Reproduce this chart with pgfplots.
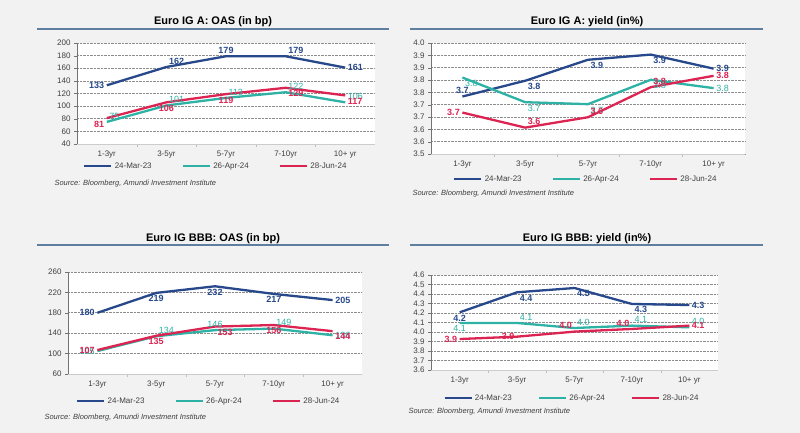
\documentclass[border=0pt]{standalone}
\usepackage{fontspec}
\setmainfont{Liberation Sans}
\usepackage{pgfplots}
\pgfplotsset{compat=1.18}
\definecolor{bg}{HTML}{F2F2F2}
\definecolor{cblue}{HTML}{27498B}
\definecolor{cteal}{HTML}{2DB2A5}
\definecolor{cred}{HTML}{DC2452}
\definecolor{tickc}{HTML}{404040}
\definecolor{rulec}{HTML}{5E7FA0}

\pgfplotsset{
 panel/.style={
  scale only axis, clip=false,
  axis background/.style={fill=white},
  xmin=-0.5,xmax=4.5,
  xtick={0,1,2,3,4},
  xticklabels={1-3yr,3-5yr,5-7yr,7-10yr,10+ yr},
  minor xtick={0.5,1.5,2.5,3.5},
  axis x line*=bottom, axis y line*=left,
  x axis line style={draw=black!20, line width=0.6pt},
  y axis line style={draw=black!55, line width=0.6pt},
  tick align=outside,
  major tick length=3pt, minor tick length=3pt,
  major x tick style={draw=none},
  minor x tick style={draw=black!25},
  ytick style={draw=black!55},
  ymajorgrids, grid style={densely dotted, black!45, line width=0.6pt},
  ticklabel style={font=\fontsize{8}{9}\selectfont, text=tickc},
  /pgf/number format/assume math mode=true,
  legend columns=3,
  legend cell align=left,
  legend style={draw=none, fill=none, anchor=west, font=\fontsize{8}{9}\selectfont, text=tickc, inner sep=0pt,
    /tikz/every even column/.append style={column sep=28pt}},
  legend image code/.code={\draw[#1, line width=2.6pt] (0pt,0pt) -- (27pt,0pt);},
  nodes near coords, point meta=explicit symbolic,
  visualization depends on={value \thisrow{anc} \as \anc},
  every node near coord/.append style={anchor=\anc, inner sep=1.5pt, font=\fontsize{9}{10}\selectfont\bfseries},
 },
 s1/.style={cblue, mark=none, line width=2.3pt, every node near coord/.append style={text=cblue}},
 s2/.style={cteal, mark=none, line width=2.3pt, every node near coord/.append style={text=cteal, font=\fontsize{9}{10}\selectfont}},
 s3/.style={cred, mark=none, line width=2.3pt, every node near coord/.append style={text=cred}},
}

\begin{document}
\begin{tikzpicture}
\fill[bg] (0,0) rectangle (800pt,433pt);

% Titles and rules
\node[font=\fontsize{11}{13}\selectfont\bfseries] at (213pt,411pt) {Euro IG A: OAS (in bp)};
\node[font=\fontsize{11}{13}\selectfont\bfseries] at (587pt,411pt) {Euro IG A: yield (in\%)};
\node[font=\fontsize{11}{13}\selectfont\bfseries] at (213pt,194pt) {Euro IG BBB: OAS (in bp)};
\node[font=\fontsize{11}{13}\selectfont\bfseries] at (587pt,194pt) {Euro IG BBB: yield (in\%)};
\draw[rulec, line width=1.2pt] (37pt,404pt) -- (389pt,404pt);
\draw[rulec, line width=1.2pt] (410pt,404pt) -- (763pt,404pt);
\draw[rulec, line width=1.2pt] (37pt,188pt) -- (389pt,188pt);
\draw[rulec, line width=1.2pt] (410pt,188pt) -- (763pt,188pt);

% Sources
\node[anchor=west, font=\fontsize{7.5}{9}\selectfont\itshape, text=tickc] at (51pt,249pt) {Source: Bloomberg, Amundi Investment Institute};
\node[anchor=west, font=\fontsize{7.5}{9}\selectfont\itshape, text=tickc] at (409pt,239pt) {Source: Bloomberg, Amundi Investment Institute};
\node[anchor=west, font=\fontsize{7.5}{9}\selectfont\itshape, text=tickc] at (41pt,15pt) {Source: Bloomberg, Amundi Investment Institute};
\node[anchor=west, font=\fontsize{7.5}{9}\selectfont\itshape, text=tickc] at (405pt,21pt) {Source: Bloomberg, Amundi Investment Institute};

% Panel 1
\begin{axis}[panel, at={(77pt,289pt)}, anchor=south west, width=298pt, height=101pt,
  ymin=40, ymax=200, ytick={40,60,80,100,120,140,160,180,200},
  legend style={at={(0.02,-0.218)}}]
\addplot[s1] table[col sep=comma, row sep=\\, meta=lab] {x,y,lab,anc\\0,133,133,east\\1,162,162,south west\\2,179,179,south\\3,179,179,south west\\4,161,161,west\\};
\addlegendentry{24-Mar-23}
\addplot[s2] table[col sep=comma, row sep=\\, meta=lab] {x,y,lab,anc\\0,75,75,south west\\1,101,101,south west\\2,113,113,south west\\3,122,122,south west\\4,106,106,south west\\};
\addlegendentry{26-Apr-24}
\addplot[s3] table[col sep=comma, row sep=\\, meta=lab] {x,y,lab,anc\\0,81,81,north east\\1,106,106,north\\2,119,119,north\\3,129,129,north west\\4,117,117,north west\\};
\addlegendentry{28-Jun-24}
\end{axis}

% Panel 2
\begin{axis}[panel, at={(431pt,279pt)}, anchor=south west, width=314pt, height=111pt,
  ymin=3.55, ymax=4.0, ytick={3.55,3.6,3.65,3.7,3.75,3.8,3.85,3.9,3.95,4.0},
  yticklabels={3.5,3.6,3.6,3.7,3.7,3.8,3.8,3.9,3.9,4.0},
  legend style={at={(0.07,-0.225)}}]
\addplot[s1] table[col sep=comma, row sep=\\, meta=lab] {x,y,lab,anc\\0,3.783,3.7,south\\1,3.847,3.8,north west\\2,3.932,3.9,north west\\3,3.953,3.9,north west\\4,3.896,3.9,west\\};
\addlegendentry{24-Mar-23}
\addplot[s2] table[col sep=comma, row sep=\\, meta=lab] {x,y,lab,anc\\0,3.860,3.8,north west\\1,3.760,3.7,north west\\2,3.752,3.7,north west\\3,3.851,3.8,north west\\4,3.817,3.8,west\\};
\addlegendentry{26-Apr-24}
\addplot[s3] table[col sep=comma, row sep=\\, meta=lab] {x,y,lab,anc\\0,3.718,3.7,east\\1,3.657,3.6,south west\\2,3.699,3.6,south west\\3,3.821,3.8,south west\\4,3.867,3.8,west\\};
\addlegendentry{28-Jun-24}
\end{axis}

% Panel 3
\begin{axis}[panel, at={(68pt,59pt)}, anchor=south west, width=294pt, height=102pt,
  ymin=60, ymax=260, ytick={60,100,140,180,220,260},
  legend style={at={(0.027,-0.265)}}]
\addplot[s1] table[col sep=comma, row sep=\\, meta=lab] {x,y,lab,anc\\0,180,180,east\\1,219,219,north\\2,232,232,north\\3,217,217,north\\4,205,205,west\\};
\addlegendentry{24-Mar-23}
\addplot[s2] table[col sep=comma, row sep=\\, meta=lab] {x,y,lab,anc\\0,105,105,east\\1,134,134,south west\\2,146,146,south\\3,149,149,south west\\4,136,136,west\\};
\addlegendentry{26-Apr-24}
\addplot[s3] table[col sep=comma, row sep=\\, meta=lab] {x,y,lab,anc\\0,107,107,east\\1,135,135,north\\2,153,153,north west\\3,156,156,north\\4,144,144,north west\\};
\addlegendentry{28-Jun-24}
\end{axis}

% Panel 4
\begin{axis}[panel, at={(431pt,63pt)}, anchor=south west, width=287pt, height=95pt,
  ymin=3.6, ymax=4.6, ytick={3.6,3.7,3.8,3.9,4.0,4.1,4.2,4.3,4.4,4.5,4.6},
  yticklabels={3.6,3.7,3.8,3.9,4.0,4.1,4.2,4.3,4.4,4.5,4.6},
  legend style={at={(0.042,-0.295)}, /tikz/every even column/.append style={column sep=24pt}}]
\addplot[s1] table[col sep=comma, row sep=\\, meta=lab] {x,y,lab,anc\\0,4.207,4.2,north\\1,4.418,4.4,north west\\2,4.463,4.5,north west\\3,4.295,4.3,north west\\4,4.284,4.3,west\\};
\addlegendentry{24-Mar-23}
\addplot[s2] table[col sep=comma, row sep=\\, meta=lab] {x,y,lab,anc\\0,4.095,4.1,north\\1,4.095,4.1,south west\\2,4.042,4.0,south west\\3,4.067,4.1,south west\\4,4.049,4.0,south west\\};
\addlegendentry{26-Apr-24}
\addplot[s3] table[col sep=comma, row sep=\\, meta=lab] {x,y,lab,anc\\0,3.926,3.9,east\\1,3.951,3.9,east\\2,4.004,4.0,south east\\3,4.032,4.0,south east\\4,4.067,4.1,west\\};
\addlegendentry{28-Jun-24}
\end{axis}
\end{tikzpicture}
\end{document}
